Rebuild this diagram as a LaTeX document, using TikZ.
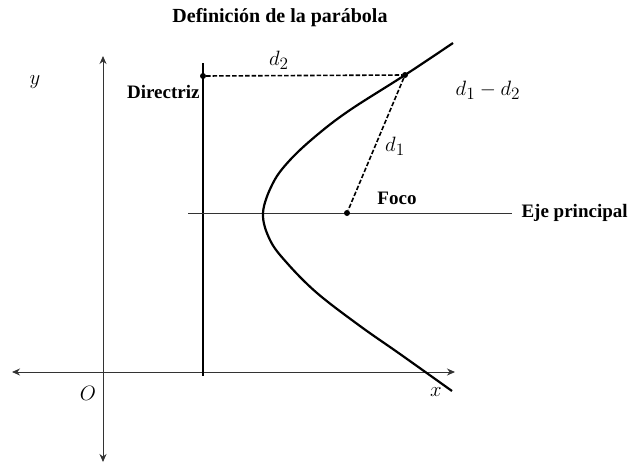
\documentclass[tikz,border=0pt]{standalone}
\usepackage{fontspec}
\setmainfont{Liberation Serif}
\usepackage{amsmath,amssymb}
\usetikzlibrary{positioning,arrows.meta,calc}

\begin{document}
\begin{tikzpicture}[x=1pt,y=-1pt,
    eje/.style={line width=1pt,draw=black!80,{Stealth[length=8pt,width=7pt]}-{Stealth[length=8pt,width=7pt]}},
    distancia/.style={line width=1.6pt,dash pattern=on 4.5pt off 2pt},
    punto/.style={circle,fill=black,inner sep=0pt,minimum size=6pt},
    rotulo/.style={font=\bfseries\fontsize{19}{19}\selectfont},
    letra/.style={font=\fontsize{19}{19}\selectfont,scale=1.2}]
        \useasboundingbox (0,0) rectangle (634,464);

        % Titulo
        \node[font=\bfseries\fontsize{20}{20}\selectfont] (titulo) at (280,18) {Definición de la parábola};

        % Ejes
        \coordinate (xizq) at (12,372);
        \coordinate (xder) at (455,372);
        \coordinate (yarr) at (103,56);
        \coordinate (yaba) at (103,462);
        \draw[eje] (xizq) -- (xder);
        \draw[eje] (yaba) -- (yarr);
        \node[letra] (ly) at (35,82) {$y$};
        \node[letra] (lx) at (436,392) {$x$};
        \node[letra] (lo) at (88,393) {$O$};

        % Directriz
        \coordinate (dsup) at (203,63);
        \coordinate (dinf) at (203,376);
        \draw[line width=1.5pt] (dsup) -- (dinf);
        \node[rotulo, left=0pt of dsup, yshift=-29pt] (ldir) {Directriz};

        % Eje principal
        \coordinate (eizq) at (188,213);
        \coordinate (eder) at (512,213);
        \draw[line width=1pt,black!80] (eizq) -- (eder);
        \node[rotulo, right=6pt of eder] (leje) {Eje principal};

        % Parabola
        \draw[line width=2.2pt] plot[smooth,tension=0.6] coordinates {(453,43) (405,75) (350,110) (317,135)
            (290,160) (273,183) (263,213) (270,240) (287,263) (317,293) (360,326) (400,354) (452,391)};

        % Distancias
        \node[punto] (Q) at (203,76) {};
        \node[punto] (P) at (405,75) {};
        \node[punto] (F) at (347,213) {};
        \draw[distancia] (Q) -- (P);
        \draw[distancia] (P) -- (F);
        \node[letra] (ldos) at (279,60) {$d_2$};
        \node[letra] (luno) at (395,146) {$d_1$};
        \node[letra] (ligual) at (488,90) {$d_1 - d_2$};
        \node[rotulo] (lfoco) at (397,198) {Foco};

    \end{tikzpicture}
\end{document}
